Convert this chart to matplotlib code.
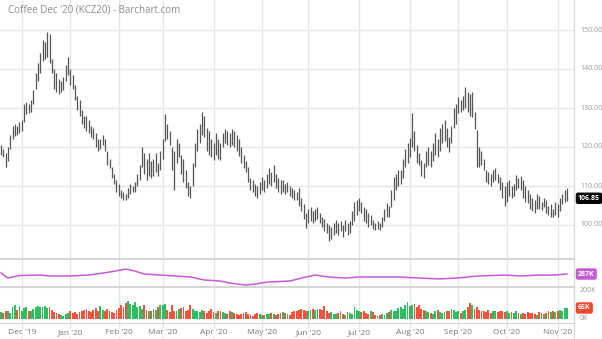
import numpy as np
import pandas as pd
import matplotlib
matplotlib.use("Agg")
import matplotlib.pyplot as plt

plt.rcParams['font.family'] = ['Open Sans', 'DejaVu Sans']

title = "Coffee Dec '20 (KCZ20) - Barchart.com"

# trading days (ICE holidays removed)
holidays = ['2019-11-28', '2019-12-25', '2020-01-01', '2020-01-20', '2020-02-17',
            '2020-04-10', '2020-05-25', '2020-07-03', '2020-09-07']
dates = pd.bdate_range('2019-11-18', '2020-11-06')
dates = dates[~dates.isin(pd.to_datetime(holidays))]

# daily highs / lows
highs = [120.5, 119.5, 118.5, 120, 123, 125.5, 126, 125.5, 126.5, 127,
         131, 131.5, 131, 132, 134.5, 139, 141.5, 144, 147.5, 147,
         149.5, 149, 142.5, 140, 139, 137.5, 137, 138, 141, 143,
         140, 138.5, 136, 133, 132, 129.5, 128, 128, 127, 125.5,
         125, 123.5, 122, 122, 123, 122, 119, 117, 115, 113,
         111.5, 110.5, 109, 108.5, 108, 109.5, 110.5, 110, 111, 113,
         115.5, 120, 118.5, 117, 118.5, 116.5, 117, 118.5, 116, 119,
         122, 128.5, 126, 124, 120, 119, 122, 121, 118, 117,
         114, 111, 110, 116, 121, 124.5, 126, 129, 128, 125,
         124, 122, 121, 123.5, 122, 121, 123.5, 124.5, 124, 123.5,
         124.5, 124, 123, 122, 120, 118, 116.5, 115, 112, 111.5,
         110.5, 110, 111, 112.3, 111.5, 113, 114.5, 113.5, 115.4, 113,
         112, 111.5, 111.5, 110.5, 111, 110, 109.5, 109, 108.5, 109.5,
         107, 105.5, 103, 104, 104.5, 103.5, 104, 104.6, 103, 102,
         101.5, 100.5, 100, 99.5, 100.5, 101.3, 100.5, 101, 100, 101.3,
         100.5, 101, 103.5, 106, 106.4, 107, 106, 104.6, 104, 103,
         102.5, 101.3, 100.5, 101, 100.5, 102, 104, 105.6, 105, 109,
         112.3, 113, 114, 114, 117, 119.5, 121, 122.3, 128.7, 124,
         120.5, 118.5, 116.7, 116, 119, 120, 119, 121, 123.6, 122,
         125, 126, 127, 125, 122.5, 125.5, 130, 131, 132.8, 132,
         133, 135.4, 134, 133.5, 134, 129, 124.4, 120, 119, 117,
         114, 113.5, 113, 114, 114.6, 113, 112.3, 111, 110, 111,
         111.5, 110, 110.5, 112.8, 112, 112.5, 111.5, 110, 109, 108,
         107, 106.5, 108, 107.5, 106, 107, 106.4, 105, 105.5, 104,
         106, 105.5, 107, 108, 109, 109.5]
lows = [118, 117.5, 114.8, 116.5, 119.5, 122, 122.8, 123, 123.5, 124,
        126.5, 128.5, 128.8, 129, 131, 135, 137, 139, 142, 142.5,
        143, 141.5, 139, 135, 134, 133.5, 134, 134.5, 137, 138.5,
        136, 135, 132, 129.5, 128, 126, 125, 124, 123.5, 122.5,
        122, 120, 119, 119.5, 120.5, 119, 115.5, 114.5, 112, 110.5,
        108.5, 107.5, 106.8, 106.5, 106.5, 107, 108, 108.5, 108.5, 110,
        111.5, 115, 113, 111.5, 112.5, 112, 112.5, 113.5, 112.5, 114,
        117, 121.5, 122, 120.5, 114, 109, 116, 117.5, 113, 111,
        109.5, 107.5, 106.8, 110, 115, 119, 121, 123, 122.5, 119,
        118, 117.5, 116.7, 118, 117, 116.7, 120, 121, 120.5, 120,
        120.5, 120, 119, 117.8, 116, 114.5, 113.5, 111, 109, 108.5,
        107.5, 107, 108, 109, 108.5, 109.5, 110.5, 110, 111, 109.5,
        108.5, 108, 108.5, 108, 108.5, 107.5, 107, 106.5, 106.4, 105,
        103.5, 101.5, 99.3, 100.5, 101, 100.5, 101, 101.5, 100.5, 99.5,
        98.5, 98, 96, 96.5, 97.5, 98, 97.5, 98.5, 97, 98.5,
        97.5, 98, 100, 101, 102.5, 103.5, 103, 101, 100.5, 99.5,
        100, 99, 98.7, 99, 98.7, 99.5, 101, 102, 102, 104.6,
        106.5, 109, 110, 110.5, 112, 115, 116, 117.5, 120, 119,
        116, 115.4, 112.5, 112, 115, 115.5, 115, 116.5, 118, 117.5,
        119, 121, 121.5, 120, 118.7, 121, 125, 126, 128.7, 129,
        129.5, 130, 129, 128, 127.7, 124.5, 115, 115, 115.5, 114,
        111, 110.5, 110, 111, 111.5, 110.8, 109, 107, 105, 106,
        107.5, 107, 107.5, 109, 109.5, 109, 107, 106, 105.6, 104,
        103.5, 103, 104, 104, 103.8, 104.5, 103, 102.5, 102, 102,
        102.5, 102, 103.5, 105.5, 106, 106.2]
last_price = 106.85

# daily volume, thousands of contracts
volume = [40, 35, 50, 45, 38, 70, 80, 55, 75, 45, 65, 72, 50, 48,
          60, 68, 75, 72, 70, 78, 65, 72, 55, 40, 35, 30, 25,
          20, 30, 35, 45, 38, 42, 30, 40, 45, 55, 60, 50, 40, 55, 65, 48, 75,
          55, 45, 60, 50, 42, 38, 55, 65, 80, 70, 95, 105, 90, 85, 100, 70, 75,
          60, 80, 55, 45, 50, 60, 55, 70, 80, 85, 90,
          55, 40, 80, 50, 45, 60, 65, 70, 50, 55, 85, 60, 45, 50, 40,
          55, 45, 38, 50, 60, 40, 35, 45, 50,
          40, 35, 30, 45, 40, 38, 30, 25, 28, 35, 40,
          30, 25, 20, 28, 35, 30, 22, 25, 30,
          28, 35, 30, 25, 32, 38, 40, 35, 30, 25, 40, 45, 50,
          55, 60, 55, 50, 48, 55, 60, 52, 58, 60, 55, 75,
          45, 35, 40, 30, 28, 35, 45, 30, 25, 40, 35, 30,
          70, 55, 45, 40, 50, 35, 30, 45, 40, 25, 20, 22, 30, 25, 35, 40,
          55, 50, 45, 65, 70, 60, 85, 100, 75, 80, 90, 70, 85, 60, 55,
          50, 40, 35, 30, 45, 55, 40, 35, 40, 50, 45, 60, 55, 40, 50, 35, 45,
          55, 70, 95, 80, 60, 70, 55, 50, 45, 40, 55, 35, 50, 45, 40, 50, 45,
          40, 45, 35, 40, 38, 45, 35, 30, 35, 30, 40, 35, 38, 30, 25, 40, 35, 30,
          35, 45, 40, 45, 42, 50, 55, 45, 65, 65]
last_volume = "65K"

# open interest (thousands), sampled along the line
oi_idx = [0, 3, 8, 17, 21, 30, 38, 47, 54, 58, 62, 69, 75, 82, 88, 95, 99, 106, 110,
          116, 125, 132, 136, 142, 149, 155, 164, 173, 181, 190, 197, 207, 218, 225,
          233, 240, 245]
oi_vals = [294, 260, 277, 280, 274, 274, 280, 300, 320, 307, 287, 280, 274, 267, 247,
           240, 227, 213, 220, 234, 240, 267, 280, 267, 260, 267, 267, 267, 260, 254,
           260, 274, 280, 274, 280, 280, 287]
last_oi = "287K"

price_ticks = [100, 110, 120, 130, 140, 150]

n = len(highs)
idx = np.arange(n)
highs = np.array(highs)
lows = np.array(lows)
mid = (highs + lows) / 2
up = np.r_[True, mid[1:] >= mid[:-1]]

starts = [i for i in range(1, n) if dates[i].month != dates[i - 1].month]
mlabels = [dates[i].strftime("%b '%y") for i in starts]

W, H = 602, 339
fig = plt.figure(figsize=(W / 100, H / 100), dpi=100)
right = 574 / W
xlim = (-0.43, 248.05)
grid_c = '#e6e6e6'
sep_c = '#d6d6d6'
lab_c = '#999999'
lab_x = 1 + 6 / 574
tag_x = 1 + 4 / 574
fs = 5


def panel(top, bottom):
    return fig.add_axes([0, 1 - bottom / H, right, (bottom - top) / H])


ax = panel(0, 259)
ax_oi = panel(259, 287)
ax_v = panel(287, 324)
ax_d = panel(324, 339)

for a in (ax, ax_oi, ax_v, ax_d):
    a.set_xlim(*xlim)
    for s in a.spines.values():
        s.set_visible(False)
    a.set_xticks([])
    a.set_yticks([])
    for i in starts:
        a.axvline(i, color=grid_c, lw=1, zorder=0)
    a.spines['right'].set_visible(True)
    a.spines['right'].set_color(sep_c)


def tag(a, y, s, color):
    a.text(tag_x, y, s, transform=a.get_yaxis_transform(), fontsize=fs,
           color='white', fontweight='bold', va='center', ha='left',
           bbox=dict(boxstyle='round,pad=0.22', fc=color, ec=color))


# price
ax.set_ylim(150 - 229 / 3.9, 150 + 30 / 3.9)
for p in price_ticks:
    ax.axhline(p, color=grid_c, lw=1, zorder=0)
    ax.text(lab_x, p, f'{p:.2f}', transform=ax.get_yaxis_transform(),
            fontsize=fs, color=lab_c, va='center', ha='left')
ax.vlines(idx, lows, highs, color='#555555', lw=0.9)
tag(ax, last_price, f'{last_price:.2f}', 'black')
ax.text(8 / 574, 150 + 20 / 3.9, title, fontsize=7, color='#8c8c8c',
        transform=ax.get_yaxis_transform(), va='center', ha='left')

# open interest
ax_oi.set_ylim(200, 200 + 28 * 6.7)
ax_oi.spines['top'].set_visible(True)
ax_oi.spines['top'].set_color(sep_c)
ax_oi.spines['top'].set_linewidth(1.5)
ax_oi.plot(oi_idx, oi_vals, color='#c65bd8', lw=1.1)
tag(ax_oi, oi_vals[-1], last_oi, '#c65bd8')
ax_oi.text(lab_x, 200, '200K', transform=ax_oi.get_yaxis_transform(),
           fontsize=fs, color=lab_c, va='top', ha='left')

# volume
ax_v.set_ylim(-5 * 5.9, 32 * 5.9)
for side in ('top', 'bottom'):
    ax_v.spines[side].set_visible(True)
    ax_v.spines[side].set_color(sep_c)
    ax_v.spines[side].set_linewidth(1.5)
colors = np.where(up, '#2ebd5f', '#f2553c')
ax_v.bar(idx, volume, width=0.8, color=colors, linewidth=0)
ax_v.text(lab_x, 0, '0K', transform=ax_v.get_yaxis_transform(),
          fontsize=fs, color=lab_c, va='center', ha='left')
tag(ax_v, volume[-1], last_volume, '#ee4a2e')

# month labels
ax_d.set_ylim(0, 1)
for i, lab in zip(starts, mlabels):
    ax_d.text(i, 0.4, lab, fontsize=6, color='#777777', ha='center', va='center',
              bbox=dict(boxstyle='square,pad=0.1', fc='white', ec='none'))

fig.savefig('out.png', dpi=100)
